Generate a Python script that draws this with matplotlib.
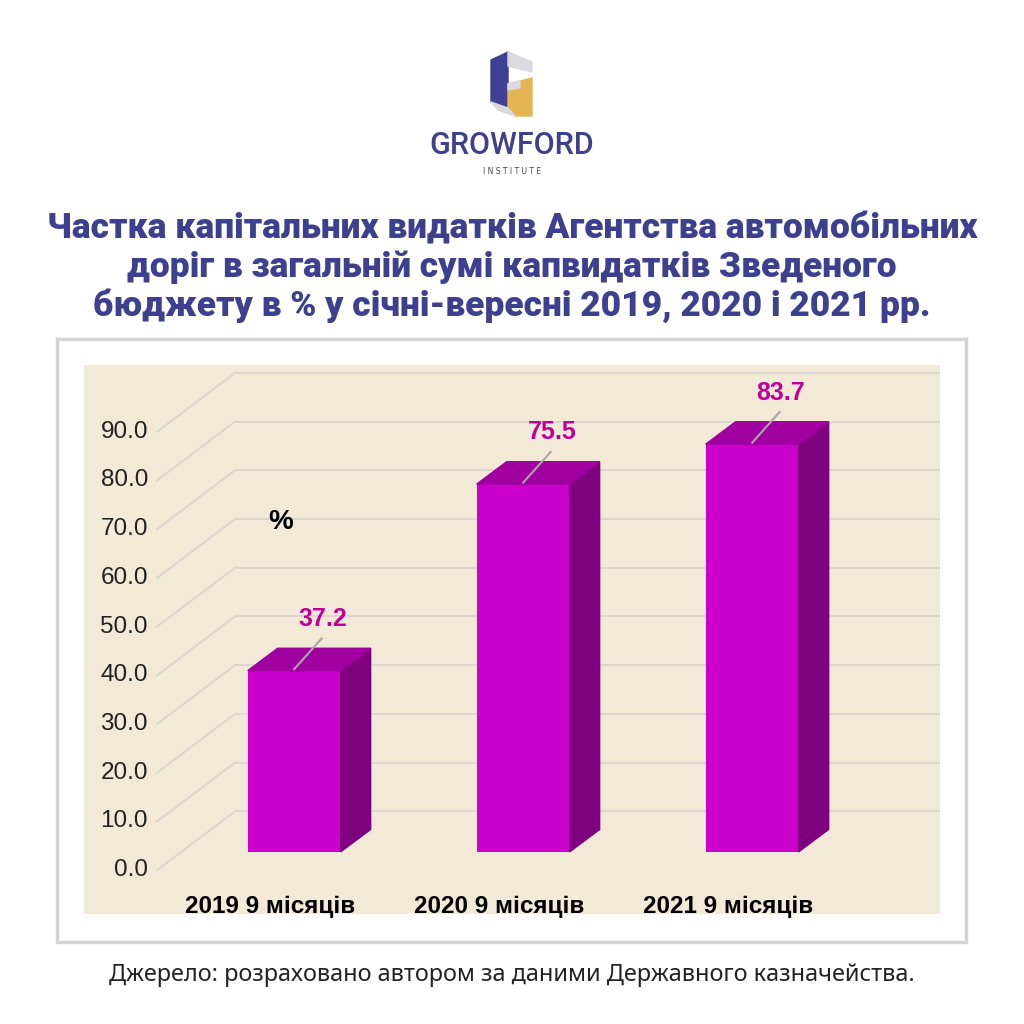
import matplotlib
matplotlib.use("Agg")
import matplotlib.pyplot as plt
from matplotlib.patches import Polygon, Rectangle
import numpy as np

# data
categories = ["2019 9 місяців", "2020 9 місяців", "2021 9 місяців"]
values = [37.2, 75.5, 83.7]
yticks = [0, 10, 20, 30, 40, 50, 60, 70, 80, 90]

title = ("Частка капітальних видатків Агентства автомобільних\n"
         "доріг в загальній сумі капвидатків Зведеного\n"
         "бюджету в % у січні-вересні 2019, 2020 і 2021 рр.")
source = "Джерело: розраховано автором за даними Державного казначейства."

navy = "#3d3f8f"
front_c = "#cc00cc"
top_c = "#a000a0"
side_c = "#7f007f"
label_c = "#c0009a"

fig = plt.figure(figsize=(10.24, 10.24), dpi=100)
fig.patch.set_facecolor("white")

# ---------------- logo ----------------
lax = fig.add_axes([0, 0, 1, 1], zorder=0)
lax.set_xlim(0, 1024)
lax.set_ylim(1024, 0)
lax.axis("off")
lax.add_patch(Polygon([(491, 60), (508, 52), (508, 108), (491, 102)], color="#3f3f95"))
lax.add_patch(Polygon([(508, 52), (532, 62), (532, 72), (508, 66)], color="#d9d9de"))
lax.add_patch(Polygon([(508, 84), (532, 78), (532, 116), (515, 116), (508, 108)], color="#e4b553"))
lax.add_patch(Polygon([(491, 102), (508, 108), (515, 116), (498, 110)], color="#d9d9de"))
lax.add_patch(Polygon([(508, 84), (520, 81), (520, 88), (508, 90)], color="#d9d9de"))
lax.text(512, 145, "GROWFORD", ha="center", va="center", color=navy,
         fontsize=22, family="Roboto", fontweight="medium")
lax.text(512, 171, "I N S T I T U T E", ha="center", va="center", color="#444444",
         fontsize=5.5, family="DejaVu Sans")

# title / footer
lax.text(512, 268, title, ha="center", va="center", color=navy, fontsize=25.5,
         fontweight="heavy", family="Roboto", linespacing=1.17)
lax.text(512, 975, source, ha="center", va="center", color="#222222",
         fontsize=16.9, family="Noto Sans")

# panel frame
lax.add_patch(Rectangle((57, 339), 909, 603, facecolor="white",
                        edgecolor="#d4d4d4", lw=2.5))

# ---------------- chart ----------------
ax = fig.add_axes([84 / 1024, 1 - 914 / 1024, 856 / 1024, 549 / 1024], zorder=1)
ax.set_facecolor("#f2e9d6")
x_left, x_right = -0.812, 2.926
ax.set_xlim(x_left, x_right)
ax.set_ylim(-9.0, 103.7)
ax.set_xticks([])
ax.set_yticks([])
for s in ax.spines.values():
    s.set_visible(False)

# oblique depth of the wall and bar position
wall_dx, wall_dy = 0.341, 12.1
bar_depth = 0.31
bar_w = 0.406
side_dx, side_dy = 0.131, 4.6
front_x0 = -0.493

# grid: diagonal side lines + back wall lines
for v in yticks:
    ax.plot([front_x0, front_x0 + wall_dx], [v, v + wall_dy], color="#d9d6d0", lw=1.3, zorder=1)
    ax.plot([front_x0 + wall_dx, x_right], [v + wall_dy, v + wall_dy], color="#d9d6d0", lw=1.3, zorder=1)
    ax.text(front_x0 - 0.04, v, f"{v:.1f}", ha="right", va="center", fontsize=17.5,
            color="#222222", family="Liberation Sans")

x = np.arange(len(values))
bx = x + bar_depth * wall_dx
by0 = bar_depth * wall_dy
ax.bar(bx, values, width=bar_w, bottom=by0, color=front_c, zorder=3)
for xi, v in zip(bx, values):
    l, r = xi - bar_w / 2, xi + bar_w / 2
    ax.add_patch(Polygon([(r, by0), (r + side_dx, by0 + side_dy),
                          (r + side_dx, by0 + v + side_dy), (r, by0 + v)],
                         color=side_c, zorder=3))
    ax.add_patch(Polygon([(l, by0 + v), (r, by0 + v),
                          (r + side_dx, by0 + v + side_dy), (l + side_dx, by0 + v + side_dy)],
                         color=top_c, zorder=3))
    ax.plot([xi, xi + 0.12], [by0 + v + 0.3, by0 + v + 6.6], color="#a8a8a8", lw=1.5, zorder=4)
    ax.text(xi + 0.125, by0 + v + 10.6, f"{v:.1f}", ha="center", va="center",
            fontsize=18, fontweight="bold", color=label_c, family="Liberation Sans", zorder=5)

for xi, c in zip(x, categories):
    ax.text(xi, -7.5, c, ha="center", va="center", fontsize=17.5, fontweight="bold",
            color="black", family="Liberation Sans")

ax.text(0.045, 71.5, "%", ha="center", va="center", fontsize=20, fontweight="bold",
        color="black", family="Liberation Sans")

fig.savefig("out.png", dpi=100)
